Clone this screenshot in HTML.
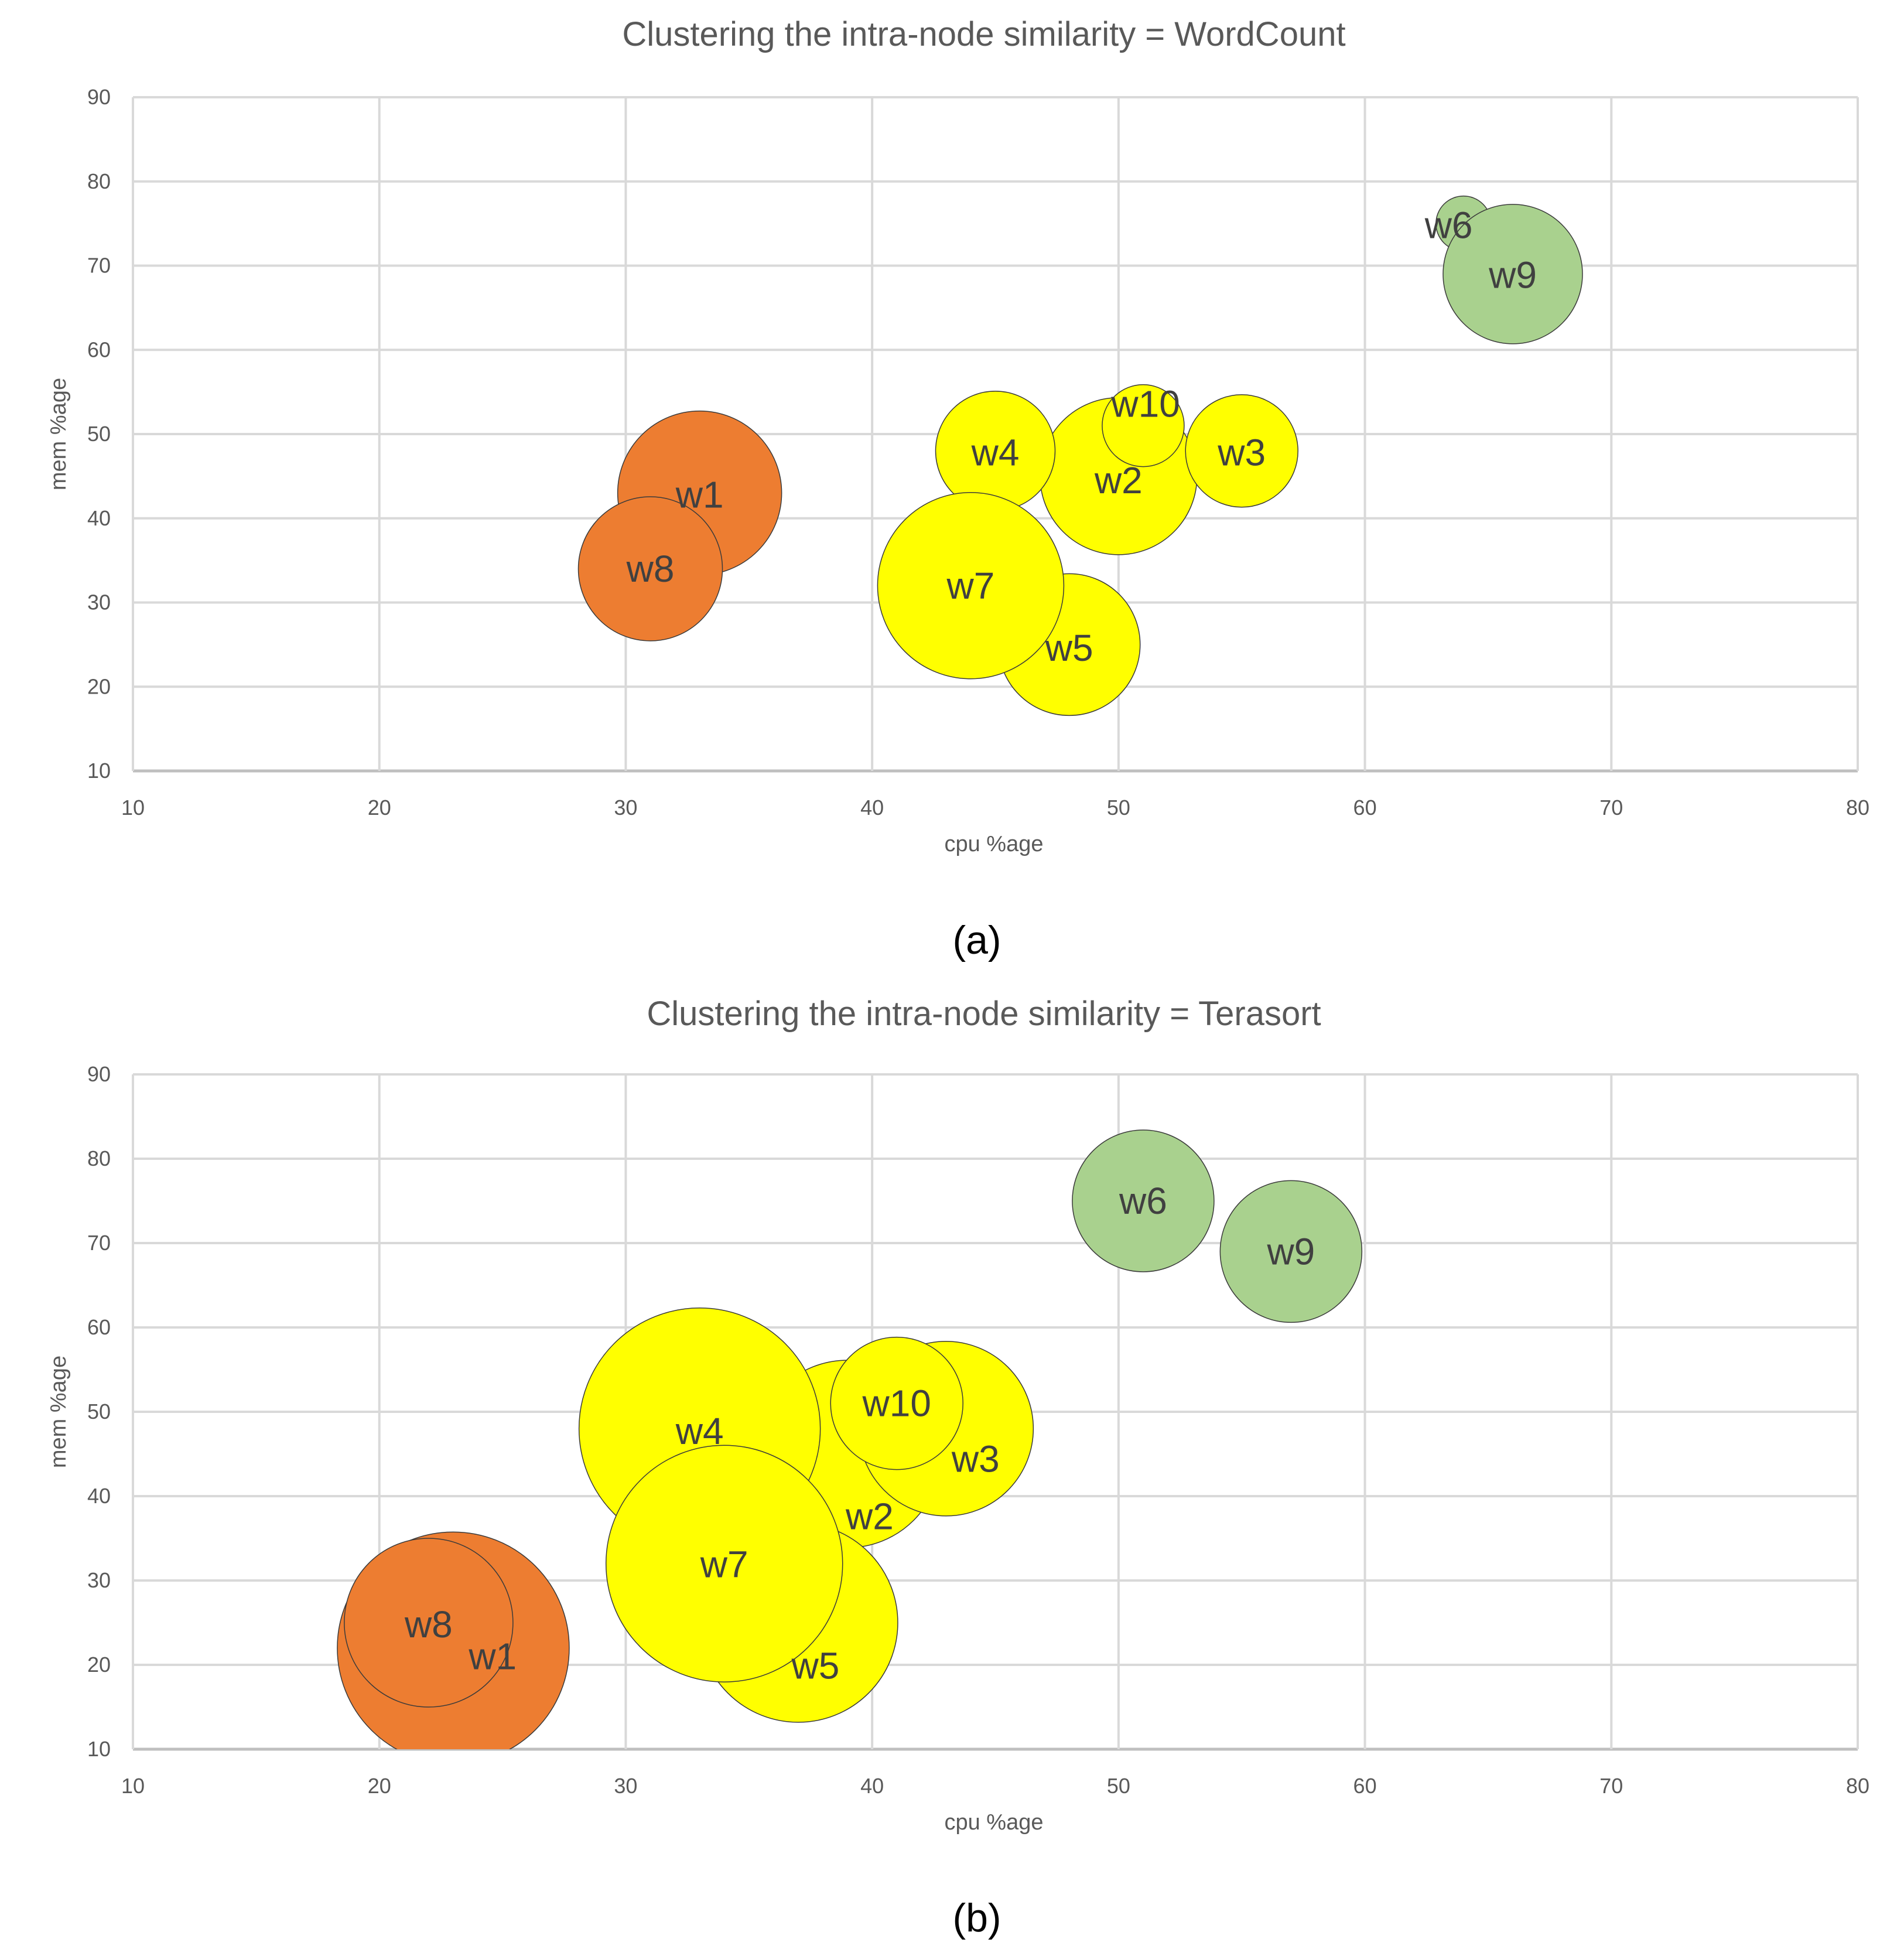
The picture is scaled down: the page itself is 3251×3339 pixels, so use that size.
<!DOCTYPE html>
<html><head><meta charset="utf-8"><style>
html,body{margin:0;padding:0;background:#fff;}
svg{display:block;}
text{font-family:"Liberation Sans",sans-serif;}
</style></head><body>
<svg id="chart" width="3251" height="3339" viewBox="0 0 3251 3339" xmlns="http://www.w3.org/2000/svg"></svg>
<script>
const labelsA = ["w1","w2","w3","w4","w5","w6","w7","w8","w9","w10"];
const cpuA = [33,50,55,45,48,64,44,31,66,51];
const memA = [43,45,48,48,25,75,32,34,69,51];
const sizeA = [140,134,96,102,121,47,159,123,119,70];
const labelCpuA = [33,50,55,45,48,63.4,44,31,66,51.1];
const labelMemA = [42.8,44.5,47.8,47.8,24.6,74.8,32,34,68.9,53.6];
const groupA = [0,1,1,1,1,2,1,0,2,1];

const labelsB = ["w1","w2","w3","w4","w5","w6","w7","w8","w9","w10"];
const cpuB = [23,39,43,33,37,51,34,22,57,41];
const memB = [22,45,48,48,25,75,32,25,69,51];
const sizeB = [198,160,149,206,170,121,202,144,121,113];
const labelCpuB = [24.6,39.9,44.2,33,37.7,51,34,22,57,41];
const labelMemB = [21,37.6,44.4,47.7,19.9,75,31.9,24.8,69,51];
const groupB = [0,1,1,1,1,2,1,0,2,1];

const xTicks = [10,20,30,40,50,60,70,80];
const yTicks = [10,20,30,40,50,60,70,80,90];
const colors = ["#ed7d31","#ffff00","#a9d18e"];

const NS="http://www.w3.org/2000/svg";
const svg=document.getElementById('chart');
function mk(tag,attrs,parent){const e=document.createElementNS(NS,tag);for(const k in attrs)e.setAttribute(k,attrs[k]);(parent||svg).appendChild(e);return e;}

function drawChart(cfg){
  const L=227,R=3172,T=cfg.top,B=cfg.bottom;
  const xs=v=>L+(v-10)/70*(R-L);
  const ys=v=>B-(v-10)/80*(B-T);
  const g=mk('g',{});
  
  
  const t=mk('text',{x:1680,y:cfg.titleY,'font-size':58,fill:'#595959','text-anchor':'middle'},g);
  t.textContent=cfg.title;
  
  
  yTicks.forEach(v=>{
    const l=mk('line',{x1:L,x2:R,y1:ys(v),y2:ys(v),stroke:v===10?'#bfbfbf':'#d9d9d9','stroke-width':v===10?5:4},g);
    
    
    const tx=mk('text',{x:L-38,y:ys(v)+12,'font-size':36,fill:'#595959','text-anchor':'end'},g);
    tx.textContent=v;
    
    
  });
  xTicks.forEach(v=>{
    const l=mk('line',{x1:xs(v),x2:xs(v),y1:T,y2:B,stroke:'#d9d9d9','stroke-width':4},g);
    
    
    const tx=mk('text',{x:xs(v),y:B+75,'font-size':36,fill:'#595959','text-anchor':'middle'},g);
    tx.textContent=v;
    
    
  });
  const xt=mk('text',{x:1697,y:B+137,'font-size':38,fill:'#595959','text-anchor':'middle'},g);
  xt.textContent='cpu %age';
  
  
  const yc=(T+B)/2;
  const yt=mk('text',{x:112,y:yc,'font-size':38,fill:'#595959','text-anchor':'middle',transform:`rotate(-90 112 ${yc})`},g);
  yt.textContent='mem  %age';
  
  
  const clip=mk('clipPath',{id:'clip'+cfg.id},g);
  mk('rect',{x:L,y:T-60,width:R-L,height:B-T+60},clip);
  const bg=mk('g',{'clip-path':`url(#clip${cfg.id})`},g);
  cfg.labels.forEach((n,i)=>{
    const c=mk('circle',{cx:xs(cfg.cpu[i]),cy:ys(cfg.mem[i]),r:cfg.size[i],fill:colors[cfg.group[i]],stroke:'#3a3a3a','stroke-width':1.5},bg);
    
    
  });
  cfg.labels.forEach((n,i)=>{
    const tx=mk('text',{x:xs(cfg.lcpu[i]),y:ys(cfg.lmem[i])+22,'font-size':64,fill:'#404040','text-anchor':'middle'},g);
    tx.textContent=n;
    
    
  });
  const cap=mk('text',{x:1668,y:cfg.capY,'font-size':68,fill:'#000','text-anchor':'middle','font-family':'Liberation Serif, serif'},g);
  cap.textContent=cfg.caption;
  
  
}
drawChart({id:'a',name:'chart-wordcount',title:'Clustering the intra-node similarity = WordCount',titleY:78,top:166,bottom:1316,labels:labelsA,cpu:cpuA,mem:memA,size:sizeA,lcpu:labelCpuA,lmem:labelMemA,group:groupA,caption:'(a)',capY:1628});
drawChart({id:'b',name:'chart-terasort',title:'Clustering the intra-node similarity = Terasort',titleY:1750,top:1834,bottom:2986,labels:labelsB,cpu:cpuB,mem:memB,size:sizeB,lcpu:labelCpuB,lmem:labelMemB,group:groupB,caption:'(b)',capY:3297});
</script>
</body></html>
